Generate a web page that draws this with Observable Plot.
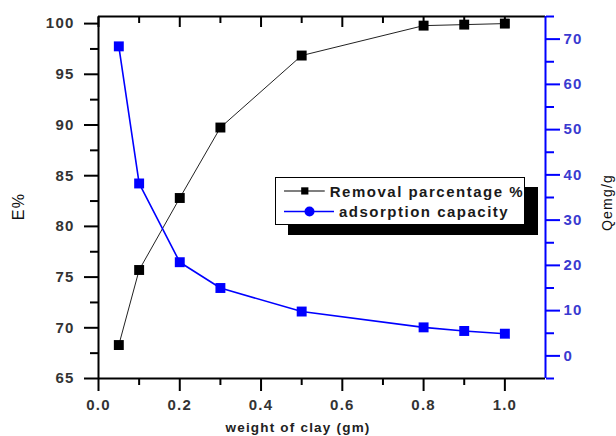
<!DOCTYPE html>
<html><head><meta charset="utf-8">
<script src="https://cdn.jsdelivr.net/npm/d3@7"></script>
<script src="https://cdn.jsdelivr.net/npm/@observablehq/plot@0.6"></script>
<style>
body{margin:0;background:#fff;font-family:"Liberation Sans",Arial,sans-serif}
#wrap{position:relative;width:616px;height:436px;overflow:hidden}
#wrap svg{position:absolute;left:0;top:0}
.legend{position:absolute;left:275px;top:177px;width:250px;height:48px;box-sizing:border-box;border:1px solid #000;background:#fff;box-shadow:13px 10px 0 #000;font-family:"Liberation Sans",Arial,sans-serif;font-weight:bold;font-size:15px;color:#1a1a1a}
.row{position:absolute;left:8px;height:16px;display:flex;align-items:center;white-space:nowrap}
.row svg{position:static!important}
.row span{margin-left:5px;letter-spacing:1.5px}
</style></head><body><div id="wrap"></div>
<script>
const weight = [0.05, 0.1, 0.2, 0.3, 0.5, 0.8, 0.9, 1.0];
const removal = [68.3, 75.7, 82.8, 89.75, 96.85, 99.8, 99.9, 100.0];
const capacity = [68.4, 38.1, 20.7, 15.0, 9.8, 6.3, 5.5, 4.9];
const xDomain = [0, 1.1];
const leftDomain = [65, 100.7];
const rightDomain = [-5, 75];
const xTicks = [0, 0.2, 0.4, 0.6, 0.8, 1.0];
const xMinor = [0.1, 0.3, 0.5, 0.7, 0.9];
const leftTicks = [65, 70, 75, 80, 85, 90, 95, 100];
const leftMinor = [67.5, 72.5, 77.5, 82.5, 87.5, 92.5, 97.5];
const rightTicks = [0, 10, 20, 30, 40, 50, 60, 70];
const rightMinor = [-5, 5, 15, 25, 35, 45, 55, 65, 75];
const seriesNames = ["Removal parcentage %", "adsorption capacity"];
const xTitle = "weight of clay (gm)";
const leftTitle = "E%";
const rightTitle = "Qemg/g";

const removalData = weight.map((w, i) => ({w, v: removal[i]}));
const capacityData = weight.map((w, i) => ({w, v: capacity[i]}));

const W = 616, H = 436;
const margins = {marginLeft: 98, marginRight: 71, marginTop: 16, marginBottom: 58};
const font = "'Liberation Sans', Arial, sans-serif";
const blank = () => "";

const chart1 = Plot.plot({
  width: W, height: H, ...margins,
  style: {fontFamily: font, background: "transparent", overflow: "visible", letterSpacing: "1.2px"},
  x: {domain: xDomain},
  y: {domain: leftDomain},
  marks: [
    Plot.axisY({ticks: leftTicks, tickSize: 14, tickPadding: 10, tickFormat: d => d, label: null,
      fontSize: 15, fontWeight: "bold", fill: "#333", stroke: "#000", strokeWidth: 2}),
    Plot.axisY({ticks: leftMinor, tickSize: 8, tickFormat: blank, label: null, strokeWidth: 2}),
    Plot.axisX({ticks: xTicks, tickSize: 13, tickPadding: 8, tickFormat: d => d.toFixed(1), label: null,
      fontSize: 15, fontWeight: "bold", fill: "#333", strokeWidth: 2}),
    Plot.axisX({ticks: xMinor, tickSize: 7, tickFormat: blank, label: null, strokeWidth: 2}),
    Plot.axisX({anchor: "top", ticks: xTicks, tickSize: -10, tickFormat: blank, label: null, strokeWidth: 2}),
    Plot.axisX({anchor: "top", ticks: xMinor, tickSize: -6, tickFormat: blank, label: null, strokeWidth: 2}),
    Plot.ruleX([xDomain[0]], {stroke: "#000", strokeWidth: 2}),
    Plot.ruleY([leftDomain[0]], {stroke: "#000", strokeWidth: 2}),
    Plot.ruleY([leftDomain[1]], {stroke: "#000", strokeWidth: 2}),
    Plot.line(removalData, {x: "w", y: "v", stroke: "#222", strokeWidth: 1}),
    Plot.dot(removalData, {x: "w", y: "v", symbol: "square", r: 5.6, fill: "#000", stroke: "none"}),
    Plot.text([xTitle], {frameAnchor: "bottom", dx: -24, dy: 49, text: d => d, textAnchor: "middle", lineAnchor: "middle",
      fontSize: 13.5, fontWeight: "bold", fill: "#222"}),
    Plot.text([leftTitle], {frameAnchor: "left", dx: -80, dy: 9, rotate: -90, text: d => d, textAnchor: "middle", lineAnchor: "middle",
      fontSize: 16, fill: "#111"})
  ]
});

const chart2 = Plot.plot({
  width: W, height: H, ...margins,
  style: {fontFamily: font, background: "transparent", overflow: "visible", letterSpacing: "1.2px"},
  x: {domain: xDomain, axis: null},
  y: {domain: rightDomain},
  marks: [
    Plot.axisY({anchor: "right", ticks: rightTicks, tickSize: 14, tickPadding: 4, tickFormat: d => d, label: null,
      fontSize: 15, fontWeight: "bold", fill: "#3a3ad0", stroke: "#0000ff", strokeWidth: 2}),
    Plot.axisY({anchor: "right", ticks: rightMinor, tickSize: 8, tickFormat: blank, label: null, stroke: "#0000ff", strokeWidth: 2}),
    Plot.ruleX([xDomain[1]], {stroke: "#0000ff", strokeWidth: 2}),
    Plot.line(capacityData, {x: "w", y: "v", stroke: "#0000ff", strokeWidth: 1.6}),
    Plot.dot(capacityData, {x: "w", y: "v", symbol: "square", r: 5.6, fill: "#0000ff", stroke: "none"}),
    Plot.text([rightTitle], {frameAnchor: "right", dx: 62, dy: 5, rotate: -90, text: d => d, textAnchor: "middle", lineAnchor: "middle",
      fontSize: 14, fill: "#111"})
  ]
});

const wrap = document.getElementById("wrap");
wrap.appendChild(chart1);
wrap.appendChild(chart2);

// legend
const legend = document.createElement("div");
legend.className = "legend";
const colors = ["#000", "#0000ff"];
const symbols = ["square", "circle"];
seriesNames.forEach((name, i) => {
  const row = document.createElement("div");
  row.className = "row";
  row.style.top = (i === 0 ? 5 : 25) + "px";
  const sample = Plot.plot({
    width: 50, height: 16, margin: 0,
    style: {background: "transparent"},
    x: {domain: [0, 1], axis: null},
    y: {domain: [0, 1], axis: null},
    marks: [
      Plot.ruleY([0.5], {stroke: colors[i], strokeWidth: 1.3}),
      Plot.dot([0.5], {x: d => d, y: 0.5, symbol: symbols[i], r: 5, fill: colors[i], stroke: "none"})
    ]
  });
  row.appendChild(sample);
  const span = document.createElement("span");
  span.textContent = name;
  row.appendChild(span);
  legend.appendChild(row);
});
wrap.appendChild(legend);
</script>
</body></html>
